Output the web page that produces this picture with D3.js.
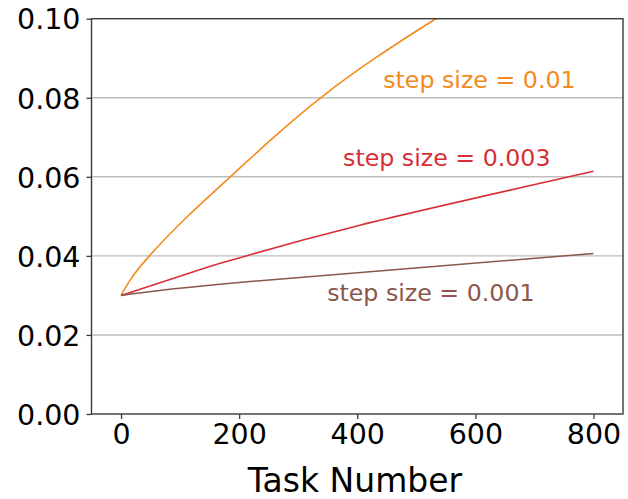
<!DOCTYPE html>
<html>
<head>
<meta charset="utf-8">
<script src="https://cdn.jsdelivr.net/npm/d3@7"></script>
<style>
  html, body { margin: 0; padding: 0; background: #fff; }
  svg { display: block; font-family: "DejaVu Sans", Verdana, sans-serif; }
</style>
</head>
<body>
<svg id="chart" width="628" height="499"></svg>
<script>
// Task numbers and the value reached for each step size
const orangeTasks  = [0, 16, 48, 112, 185, 257, 338, 432, 533, 640];
const orangeValues = [0.030, 0.034, 0.040, 0.0499, 0.060, 0.0698, 0.080, 0.0902, 0.100, 0.110];

const redTasks  = [0, 150, 210, 403, 800];
const redValues = [0.030, 0.0373, 0.0399, 0.0477, 0.0614];

const brownTasks  = [0, 209, 800];
const brownValues = [0.030, 0.0334, 0.0406];

const xTicks = [0, 200, 400, 600, 800];
const yTicks = [0.00, 0.02, 0.04, 0.06, 0.08, 0.10];

const seriesNames  = ["step size = 0.01", "step size = 0.003", "step size = 0.001"];
const seriesColors = ["#f28a1c", "#d62f35", "#8c564b"];
// label anchors (task, value) for each series name
const labelTasks  = [444, 376, 349];
const labelValues = [0.0825, 0.0628, 0.0287];

const xLabel = "Task Number";

const svg = d3.select("#chart");
const plotLeft = 91.5, plotRight = 623, plotTop = 18.7, plotBottom = 414;

const x = d3.scaleLinear().domain([-50, 850]).range([plotLeft, plotRight]);
const y = d3.scaleLinear().domain([0, 0.10]).range([plotBottom, plotTop]);

svg.append("defs").append("clipPath").attr("id", "plotClip")
  .append("rect").attr("x", plotLeft).attr("y", plotTop)
  .attr("width", plotRight - plotLeft).attr("height", plotBottom - plotTop);

// horizontal grid
svg.append("g")
  .selectAll("line")
  .data(yTicks.filter(v => v > 0 && v < 0.10))
  .join("line")
  .attr("x1", plotLeft).attr("x2", plotRight)
  .attr("y1", d => y(d)).attr("y2", d => y(d))
  .attr("stroke", "#bdbdbd").attr("stroke-width", 1.4);

// curves
const series = [
  { t: orangeTasks, v: orangeValues },
  { t: redTasks,    v: redValues },
  { t: brownTasks,  v: brownValues }
];
const line = d3.line()
  .x(d => x(d[0])).y(d => y(d[1]))
  .curve(d3.curveNatural);

svg.append("g").attr("clip-path", "url(#plotClip)")
  .selectAll("path")
  .data(series)
  .join("path")
  .attr("d", s => line(s.t.map((t, i) => [t, s.v[i]])))
  .attr("fill", "none")
  .attr("stroke", (s, i) => seriesColors[i])
  .attr("stroke-width", 1.6);

// series labels
svg.append("g")
  .selectAll("text")
  .data(seriesNames)
  .join("text")
  .attr("x", (d, i) => x(labelTasks[i]))
  .attr("y", (d, i) => y(labelValues[i]))
  .attr("fill", (d, i) => seriesColors[i])
  .attr("font-size", 23.7)
  .text(d => d);

// axes
const axisColor = "#3a3a3a";
const xAxis = svg.append("g")
  .attr("transform", `translate(0,${plotBottom})`)
  .call(d3.axisBottom(x).tickValues(xTicks).tickSize(5).tickPadding(5).tickFormat(d3.format("d")));
const yAxis = svg.append("g")
  .attr("transform", `translate(${plotLeft},0)`)
  .call(d3.axisLeft(y).tickValues(yTicks).tickSize(5).tickPadding(6).tickFormat(d3.format(".2f")));

[xAxis, yAxis].forEach(g => {
  g.select(".domain").remove();
  g.selectAll(".tick line").attr("stroke", axisColor).attr("stroke-width", 1.3);
  g.selectAll(".tick text").attr("fill", "#000").attr("font-size", 28.5)
    .attr("font-family", "DejaVu Sans, Verdana, sans-serif");
});
yAxis.selectAll(".tick text").attr("dy", "0.36em");

// frame
svg.append("rect")
  .attr("x", plotLeft).attr("y", plotTop)
  .attr("width", plotRight - plotLeft).attr("height", plotBottom - plotTop)
  .attr("fill", "none").attr("stroke", axisColor).attr("stroke-width", 1.4);

// axis title
svg.append("text")
  .attr("x", 355)
  .attr("y", 492)
  .attr("text-anchor", "middle")
  .attr("font-size", 33)
  .attr("fill", "#000")
  .text(xLabel);
</script>
</body>
</html>
